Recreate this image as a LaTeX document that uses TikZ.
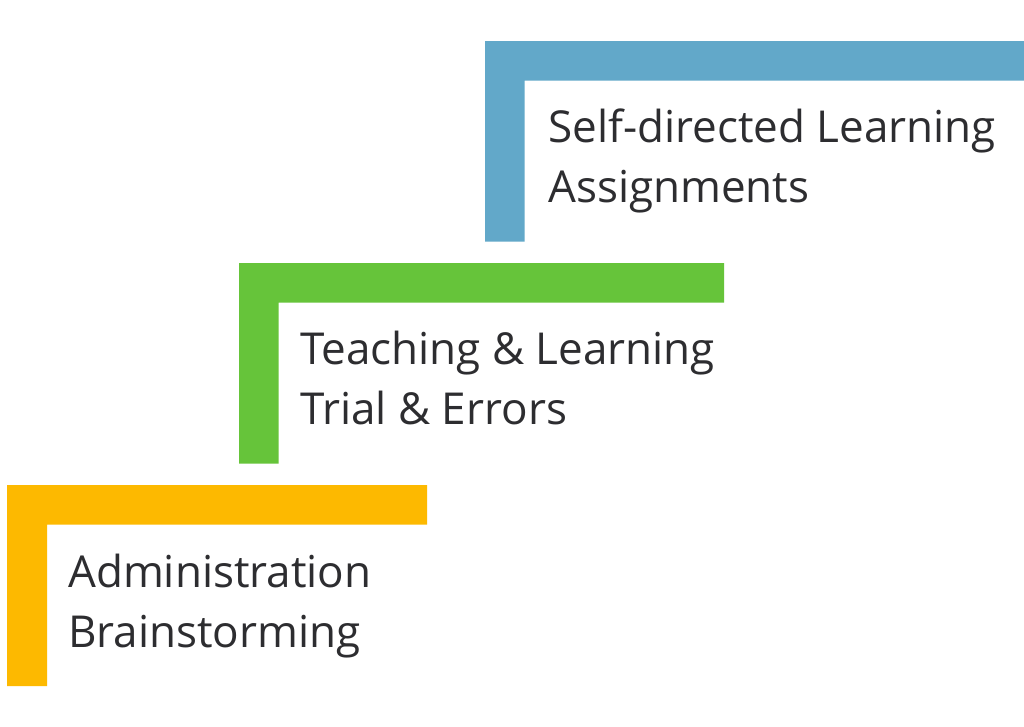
\documentclass[tikz,border=0pt]{standalone}
\usepackage{fontspec}
\setmainfont{Open Sans}
\definecolor{cblue}{RGB}{98,168,201}
\definecolor{cgreen}{RGB}{102,196,58}
\definecolor{cyellow}{RGB}{253,185,0}
\definecolor{ctext}{RGB}{45,45,48}
\begin{document}
\begin{tikzpicture}[x=1pt,y=-1pt,
  lbl/.style={anchor=base west,inner sep=0pt,text=ctext,font=\fontsize{44}{60}\selectfont,align=left}]
\useasboundingbox[fill=white] (0,0) rectangle (1024,726);
% blue
\fill[cblue] (485,41) -- (1024,41) -- (1024,80.5) -- (524.5,80.5) -- (524.5,241.5) -- (485,241.5) -- cycle;
% green
\fill[cgreen] (239,263) -- (724,263) -- (724,302.5) -- (278.5,302.5) -- (278.5,463.5) -- (239,463.5) -- cycle;
% yellow
\fill[cyellow] (7,485) -- (427,485) -- (427,524.5) -- (47,524.5) -- (47,686) -- (7,686) -- cycle;
\node[lbl] (t1a) at (548,142) {Self-directed Learning};
\node[lbl] (t1b) at (548,202) {Assignments};
\node[lbl] (t2a) at (300,364) {Teaching \& Learning};
\node[lbl] (t2b) at (300,424) {Trial \& Errors};
\node[lbl] (t3a) at (68,587) {Administration};
\node[lbl] (t3b) at (68,647) {Brainstorming};
\end{tikzpicture}
\end{document}
